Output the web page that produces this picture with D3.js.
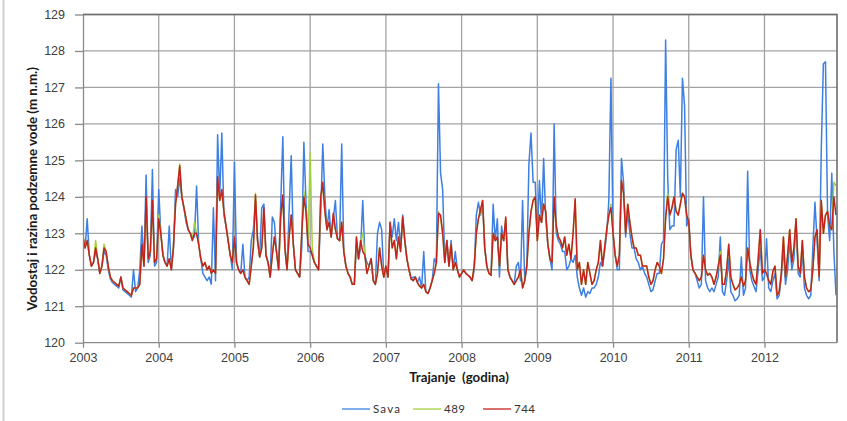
<!DOCTYPE html>
<meta charset="utf-8">
<style>
body { margin: 0; background: #fff; }
svg { font-family: Lato, "Open Sans", sans-serif; }
.grid line { stroke: #a3a3a3; stroke-width: 1.3px; }
.axis path, .axis line { stroke: #8a8a8a; stroke-width: 1.3px; }
.axis text { fill: #404040; font-size: 12.5px; }
.line { fill: none; stroke-width: 1.5px; stroke-linejoin: round; }
</style>
<body>
<div id="chart"></div>
<script src="https://d3js.org/d3.v7.min.js"></script>
<script>
// tick labels
var years = [2003, 2004, 2005, 2006, 2007, 2008, 2009, 2010, 2011, 2012];
var levels = [120, 121, 122, 123, 124, 125, 126, 127, 128, 129];
// one reading every 1/36 of a year, from 1 Jan 2003
var perYear = 36;

// Sava river stage (m a.s.l.)
var sava = [
  122.9,122.6,123.4,122.4,122.1,122.2,122.5,122.3,121.9,122.1,122.5,122.4,122.0,121.75,121.65,121.6,121.55,121.5,121.8,121.45,121.4,121.35,121.3,121.25,122.0,121.4,121.5,122.0,123.2,122.1,124.6,122.2,122.4,124.75,122.1,122.2,
  124.2,123.0,122.4,122.2,122.1,123.2,122.0,122.6,124.2,124.0,124.5,124.0,123.7,123.3,123.1,123.0,122.9,122.9,124.3,122.7,122.3,121.9,121.8,121.7,121.8,121.6,123.7,121.7,125.7,124.0,125.75,123.5,123.2,122.8,122.4,122.0,
  124.95,122.2,122.0,121.9,122.7,121.8,121.7,121.8,122.8,123.1,123.9,122.8,122.35,123.7,123.8,122.4,122.2,121.8,123.45,123.3,122.5,122.0,123.8,125.65,122.6,122.0,123.6,125.13,122.7,122.0,121.9,121.8,122.6,125.5,123.9,122.5,
  122.5,122.4,122.2,122.1,122.0,123.5,125.45,124.0,123.1,123.65,122.9,123.4,123.9,122.85,122.8,125.45,122.5,122.1,121.9,121.8,121.6,121.6,122.7,122.3,122.6,123.9,122.4,122.2,122.1,122.3,121.7,121.6,123.0,123.3,123.1,121.8,
  122.1,121.8,123.3,122.9,123.4,122.8,123.3,122.6,123.5,122.8,122.3,122.0,121.75,121.8,121.8,121.65,121.8,121.5,122.5,121.4,121.35,121.5,121.7,122.3,122.2,127.1,124.65,124.2,122.2,122.8,122.1,122.8,122.0,122.5,122.0,121.8,
  121.9,122.0,121.9,121.85,121.8,121.7,122.0,123.5,123.85,123.5,123.8,122.6,122.1,121.9,121.85,123.8,122.8,123.4,121.8,123.2,122.8,123.3,122.0,121.8,121.7,121.6,122.1,122.2,121.7,123.9,121.7,122.1,124.9,125.75,124.4,124.4,
  122.9,124.45,123.3,125.05,123.4,122.7,122.3,122.0,126.0,123.0,122.8,122.7,122.5,122.5,122.0,122.1,122.3,122.2,122.4,121.8,121.5,121.3,121.5,121.25,121.4,121.35,121.5,121.5,121.6,121.8,122.2,122.1,122.5,123.0,123.9,127.25,
  123.0,122.4,122.0,122.0,125.05,124.4,122.9,123.6,123.0,122.6,122.6,122.3,122.2,122.0,122.1,121.9,121.8,121.6,121.4,121.45,121.7,121.9,121.9,122.7,122.8,128.3,124.5,123.1,123.2,123.2,125.3,125.55,124.0,127.25,126.5,123.2,
  123.4,122.4,122.0,121.9,121.7,121.5,121.6,124.0,121.7,121.5,121.4,121.5,121.4,121.6,121.8,122.9,121.4,121.3,121.7,122.3,121.4,121.3,121.15,121.2,121.3,122.35,121.3,121.5,124.7,122.0,121.7,121.55,121.4,122.0,122.6,121.7,
  121.8,122.85,121.5,121.4,121.7,121.9,121.2,121.3,121.8,122.6,121.6,122.0,122.8,122.0,122.3,123.3,121.9,121.8,122.5,121.5,121.3,121.2,121.3,122.6,123.85,122.8,121.7,125.3,127.65,127.7,123.5,122.8,124.65,122.5,121.3
];

// piezometer 489 (m a.s.l.)
var p489 = [
  122.9,122.6,122.8,122.4,122.1,122.2,122.8,122.3,121.9,122.1,122.7,122.5,122.1,121.8,121.7,121.65,121.6,121.55,121.8,121.5,121.45,121.4,121.35,121.3,121.5,121.5,121.5,121.6,122.6,122.1,123.8,122.3,122.5,123.7,122.2,122.3,
  123.5,123.0,122.4,122.2,122.1,122.3,122.0,122.7,123.8,124.3,124.9,124.0,123.7,123.4,123.1,123.0,122.8,123.3,123.0,122.7,122.3,122.1,122.2,122.0,122.1,121.9,122.0,121.9,124.4,123.9,124.1,123.6,123.2,122.8,122.4,122.2,
  122.9,122.2,122.0,121.9,122.0,121.8,121.7,121.6,122.1,122.7,124.1,122.8,122.35,122.6,123.6,122.4,122.2,121.8,122.4,122.9,122.5,122.0,123.4,124.0,122.6,122.0,122.9,123.5,122.7,122.0,121.9,121.8,123.0,124.15,123.6,122.8,
  125.2,122.6,122.2,122.1,122.0,123.9,124.3,123.6,123.1,123.3,122.9,123.5,123.1,122.85,122.8,123.3,122.5,122.1,121.9,121.8,121.6,121.6,122.9,122.3,122.8,123.0,122.4,121.9,122.1,122.3,121.7,121.6,121.9,122.6,122.1,121.8,
  122.1,121.8,123.2,122.6,122.8,122.3,122.9,122.5,123.4,122.8,122.3,122.0,121.75,121.7,121.8,121.65,121.55,121.5,121.6,121.4,121.35,121.5,121.7,121.9,122.2,123.6,123.4,123.0,122.2,122.8,122.1,122.7,122.0,122.2,122.0,121.8,
  121.9,122.0,121.9,121.85,121.8,121.7,122.1,123.0,123.4,123.6,123.9,122.6,122.1,121.9,121.85,123.0,122.8,122.9,122.1,123.0,122.8,123.4,122.0,121.8,121.7,121.6,121.7,121.8,122.0,121.5,121.7,122.1,123.0,123.6,123.9,124.0,
  122.8,123.5,123.3,123.8,123.6,122.7,122.3,122.2,124.0,123.2,122.9,122.8,122.6,122.9,122.4,122.7,122.3,123.0,123.9,122.0,122.2,121.6,122.0,121.6,122.2,121.9,121.6,121.7,122.0,122.2,122.8,122.1,122.6,123.1,123.5,123.8,
  123.0,122.4,122.1,122.4,124.4,124.1,123.0,123.8,123.3,122.9,122.6,122.6,122.4,122.4,122.1,122.1,122.1,121.8,121.6,121.7,122.0,122.2,122.1,121.9,122.3,123.5,124.1,123.5,123.7,124.0,123.6,123.5,123.8,124.1,124.0,123.5,
  123.3,122.4,122.0,121.9,121.8,121.7,121.8,122.4,122.0,121.85,121.9,121.8,121.6,121.8,122.1,122.5,121.6,121.6,122.0,122.7,121.8,121.6,121.45,121.5,121.6,121.8,121.55,121.7,122.6,122.2,121.9,121.7,121.6,122.3,123.1,121.9,
  122.0,121.9,121.7,121.6,121.95,122.1,121.3,121.4,121.9,122.9,121.8,122.4,123.1,122.2,122.6,123.4,122.1,121.9,122.8,121.8,121.5,121.4,121.45,122.0,122.9,123.1,121.8,123.9,123.0,123.5,123.6,123.2,123.1,124.4,124.3
];

// piezometer 744 (m a.s.l.)
var p744 = [
  122.9,122.6,122.8,122.4,122.1,122.2,122.6,122.3,121.9,122.1,122.6,122.5,122.1,121.8,121.7,121.65,121.6,121.55,121.8,121.5,121.45,121.4,121.35,121.3,121.5,121.5,121.5,121.6,122.7,122.1,124.0,122.3,122.5,123.9,122.2,122.3,
  123.4,123.0,122.4,122.2,122.1,122.3,122.0,122.6,123.8,124.3,124.85,124.0,123.7,123.4,123.1,123.0,122.8,123.0,123.0,122.7,122.3,122.1,122.2,122.0,122.1,121.9,122.0,121.9,124.55,123.9,124.2,123.6,123.2,122.8,122.4,122.2,
  122.9,122.2,122.0,121.9,122.0,121.8,121.7,121.6,122.1,122.6,124.05,122.8,122.35,122.6,123.7,122.4,122.2,121.8,122.4,122.9,122.5,122.0,123.5,124.05,122.6,122.0,122.9,123.5,122.7,122.0,121.9,121.8,123.0,124.0,123.6,122.7,
  122.6,122.4,122.2,122.1,122.0,124.0,124.4,123.6,123.1,123.3,122.9,123.55,123.1,122.85,122.8,123.3,122.5,122.1,121.9,121.8,121.6,121.6,122.9,122.3,122.8,122.5,122.4,121.9,122.1,122.3,121.7,121.6,121.9,122.6,122.1,121.8,
  122.1,121.8,123.3,122.6,122.8,122.3,122.9,122.5,123.45,122.8,122.3,122.0,121.75,121.7,121.8,121.65,121.55,121.5,121.6,121.4,121.35,121.5,121.7,121.9,122.2,123.55,123.5,123.0,122.2,122.8,122.1,122.7,122.0,122.2,122.0,121.8,
  121.9,122.0,121.9,121.85,121.8,121.7,122.1,123.0,123.4,123.65,123.9,122.6,122.1,121.9,121.85,123.0,122.8,122.9,122.1,123.0,122.8,123.45,122.0,121.8,121.7,121.6,121.7,121.8,122.0,121.5,121.7,122.1,123.0,123.6,123.9,124.0,
  122.8,123.5,123.3,123.8,123.6,122.7,122.3,122.2,124.0,123.2,122.9,122.8,122.6,122.9,122.4,122.7,122.3,123.0,123.95,122.0,122.2,121.6,122.0,121.6,122.2,121.9,121.6,121.7,122.0,122.2,122.8,122.1,122.6,123.1,123.5,123.7,
  123.0,122.4,122.1,122.4,124.45,124.1,123.0,123.8,123.3,122.9,122.6,122.6,122.4,122.4,122.1,122.1,122.1,121.8,121.6,121.7,122.0,122.2,122.1,121.9,122.3,123.4,124.0,123.5,123.7,124.0,123.6,123.5,123.8,124.1,124.0,123.5,
  123.3,122.4,122.0,121.9,121.8,121.7,121.8,122.4,122.0,121.85,121.9,121.8,121.6,121.8,122.1,122.4,121.6,121.6,122.0,122.7,121.8,121.6,121.45,121.5,121.6,121.8,121.55,121.7,122.6,122.2,121.9,121.7,121.6,122.3,123.1,121.9,
  122.0,121.9,121.7,121.6,121.95,122.1,121.3,121.4,121.9,122.9,121.8,122.4,123.1,122.2,122.6,123.4,122.1,121.9,122.8,121.8,121.5,121.4,121.45,122.0,122.9,123.1,121.8,123.9,123.0,123.5,123.6,123.2,123.1,124.0,123.5
];

var series = [
  {name: "Sava", values: sava, color: "#3d7fe3"},
  {name: "489", values: p489, color: "#a2d13f"},
  {name: "744", values: p744, color: "#c3221f"}
];

var W = 847, H = 421;
var plot = {left: 83, right: 837, top: 14.5, bottom: 342.7};

var svg = d3.select("#chart").append("svg")
    .attr("width", W)
    .attr("height", H);

// faint frame line at the left edge
svg.append("line")
    .attr("x1", 3.5).attr("x2", 3.5).attr("y1", 0).attr("y2", H)
    .style("stroke", "#cfcfcf").style("stroke-width", 2);

var x = d3.scaleLinear().domain([2003, 2013]).range([plot.left, plot.left + 10 * 75.72]);
var y = d3.scaleLinear().domain([120, 129]).range([plot.bottom, plot.top]);

// grid
svg.append("g").attr("class", "grid")
  .selectAll("line").data(levels.slice(1)).enter().append("line")
    .attr("x1", plot.left).attr("x2", plot.right)
    .attr("y1", function(d) { return y(d); }).attr("y2", function(d) { return y(d); });
svg.append("g").attr("class", "grid")
  .selectAll("line").data(years.slice(1)).enter().append("line")
    .attr("x1", function(d) { return x(d); }).attr("x2", function(d) { return x(d); })
    .attr("y1", plot.top).attr("y2", plot.bottom);

// lines
var line = d3.line()
    .x(function(d, i) { return x(2003 + i / perYear); })
    .y(function(d) { return y(d); });

svg.append("defs").append("clipPath").attr("id", "clip")
  .append("rect").attr("x", plot.left).attr("y", 0).attr("width", plot.right - plot.left).attr("height", plot.bottom);

svg.append("g").attr("clip-path", "url(#clip)")
  .selectAll("path").data(series).enter().append("path")
    .attr("class", "line")
    .style("stroke", function(d) { return d.color; })
    .attr("d", function(d) { return line(d.values); });

// plot border top / right
svg.append("path")
    .attr("d", "M" + plot.left + "," + plot.top + "H" + plot.right + "V" + plot.bottom)
    .style("fill", "none").style("stroke", "#6e6e6e").style("stroke-width", 1.6);

// axes
svg.append("g").attr("class", "axis")
    .attr("transform", "translate(" + plot.left + ",0)")
    .call(d3.axisLeft(y).tickValues(levels).tickFormat(d3.format("d")).tickSize(8).tickSizeOuter(0).tickPadding(10));

svg.append("g").attr("class", "axis")
    .attr("transform", "translate(0," + plot.bottom + ")")
    .call(d3.axisBottom(x).tickValues(years).tickFormat(d3.format("d")).tickSize(5).tickSizeOuter(0).tickPadding(5))
  .select(".domain").attr("d", "M" + plot.left + ",0H" + plot.right);

// axis titles
svg.append("text")
    .attr("transform", "translate(32," + 189 + ") rotate(-90)")
    .attr("text-anchor", "middle")
    .attr("dy", "0.35em")
    .style("font-weight", "bold").style("font-size", "13.3px").style("fill", "#1a1a1a")
    .text("Vodostaj i razina podzemne vode (m n.m.)");

svg.append("text")
    .attr("x", 459).attr("y", 382)
    .attr("text-anchor", "middle")
    .style("font-weight", "bold").style("font-size", "13.3px").style("fill", "#1a1a1a")
    .style("white-space", "pre")
    .text("Trajanje  (godina)");

// legend
var legX = [342, 413, 483];
var leg = svg.append("g").selectAll("g").data(series).enter().append("g")
    .attr("transform", function(d, i) { return "translate(" + legX[i] + ",409)"; });
leg.append("line")
    .attr("x1", 0).attr("x2", 28)
    .style("stroke", function(d) { return d.color; }).style("stroke-width", 1.3);
leg.append("text")
    .attr("x", 31).attr("dy", "0.35em")
    .style("font-size", "11.5px").style("fill", "#333")
    .style("letter-spacing", function(d) { return d.name == "Sava" ? "1.2px" : "0.5px"; })
    .text(function(d) { return d.name; });
</script>
</body>
